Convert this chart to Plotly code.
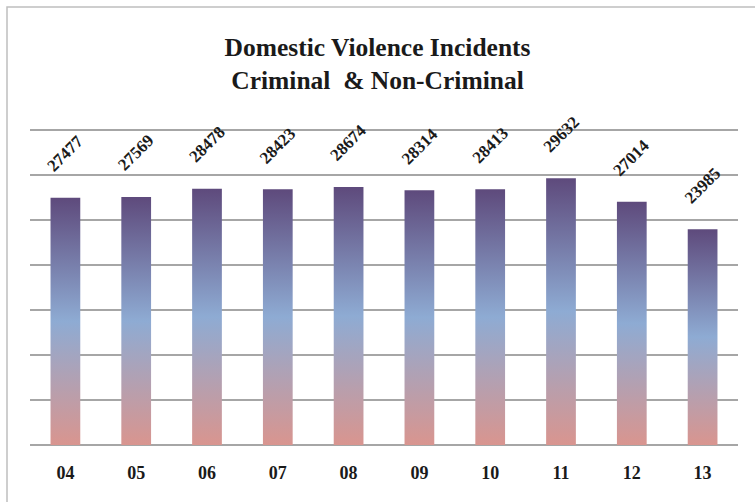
import plotly.graph_objects as go

# Data
years = ["04", "05", "06", "07", "08", "09", "10", "11", "12", "13"]
incidents = [27477, 27569, 28478, 28423, 28674, 28314, 28413, 29632, 27014, 23985]

TITLE = "Domestic Violence Incidents<br>Criminal  &amp; Non-Criminal"
SERIF = "Liberation Serif, Times New Roman, serif"
BAR_HALF = 0.21
# pink bottom -> light blue middle -> purple top, per bar
GRADIENT = [[0.0, "#d9958f"], [0.5, "#8eabd3"], [1.0, "#5e4a7c"]]

# plot area: x 30..738, y 121..445 (px); y range 0..36000 so the 35000 gridline shows
M_L, M_R, M_T, M_B = 30, 17, 121, 57
PW, PH = 755 - M_L - M_R, 502 - M_T - M_B

fig = go.Figure()
for i, v in enumerate(incidents):
    x0, x1 = i - BAR_HALF, i + BAR_HALF
    fig.add_trace(go.Scatter(
        x=[x0, x1, x1, x0, x0], y=[0, 0, v, v, 0],
        mode="lines", line=dict(width=0), fill="toself",
        fillgradient=dict(type="vertical", colorscale=GRADIENT, start=0, stop=v),
        hoverinfo="skip", showlegend=False,
    ))
    fig.add_annotation(x=i, y=v, text=str(v), showarrow=False,
                       textangle=-45, yshift=44,
                       font=dict(family=SERIF, size=17, color="#1a1a1a", weight="bold"))

fig.update_layout(
    width=755, height=502,
    margin=dict(l=M_L, r=M_R, t=M_T, b=M_B),
    paper_bgcolor="white", plot_bgcolor="white",
    title=dict(text=TITLE, x=0.5, xanchor="center", y=0.888, yanchor="middle",
               font=dict(family=SERIF, size=25.5, color="#1a1a1a", weight="bold")),
    showlegend=False,
)
fig.update_xaxes(range=[-0.5, 9.5], tickvals=list(range(len(years))), ticktext=years,
                 showgrid=False, zeroline=False, showline=False, ticks="",
                 ticklabelstandoff=15, automargin=False,
                 tickfont=dict(family=SERIF, size=18, color="#1a1a1a", weight="bold"))
fig.update_yaxes(range=[0, 36000], tickvals=list(range(5000, 35001, 5000)),
                 showticklabels=False, ticks="",
                 showgrid=True, gridcolor="#a6a6a6", gridwidth=2, automargin=False,
                 zeroline=True, zerolinecolor="#a6a6a6", zerolinewidth=2)
# chart-area frame (right and bottom edges run off the picture)
fig.add_shape(type="rect", xref="paper", yref="paper",
              x0=(7 - M_L) / PW, x1=(765 - M_L) / PW,
              y0=-(515 - 445) / PH, y1=1 + (M_T - 7) / PH,
              line=dict(color="#bfbfbf", width=1.5), layer="below")

fig.write_html("out.html", config={"displayModeBar": False},
               post_script="document.body.style.margin='0';")
